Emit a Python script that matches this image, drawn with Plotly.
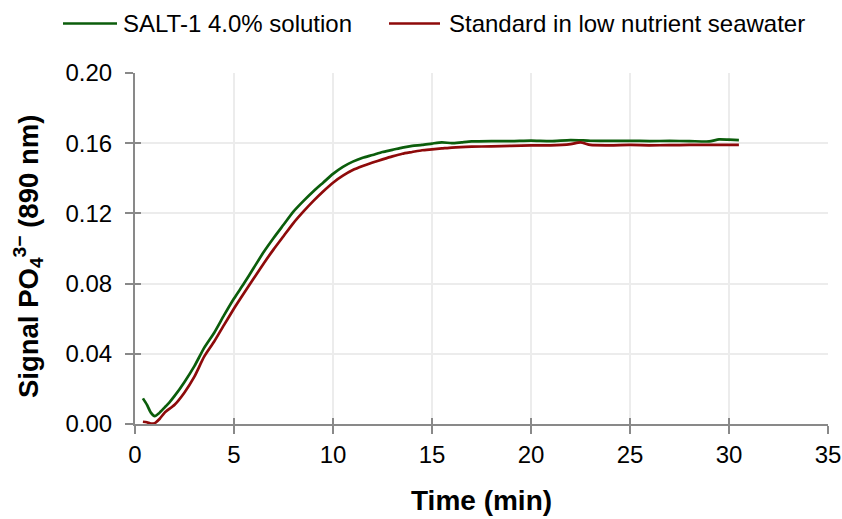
import plotly.graph_objects as go

time_green = [0.4, 0.6, 0.8, 1.0, 1.2, 1.5, 1.75, 2.0, 2.5, 3.0, 3.5, 4.0, 4.5, 5.0, 5.5, 6.0, 6.5, 7.0,
              7.5, 8.0, 8.5, 9.0, 9.5, 10.0, 10.5, 11.0, 11.5, 12.0, 12.5, 13.0, 13.5, 14.0, 14.5, 15.0,
              15.5, 16.0, 16.5, 17.0, 18.0, 19.0, 20.0, 21.0, 22.0, 23.0, 24.0, 25.0, 26.0, 27.0, 28.0,
              29.0, 29.5, 30.0, 30.5]
salt1 = [0.0146, 0.0110, 0.0065, 0.0045, 0.0060, 0.0095, 0.0125, 0.0160, 0.0240, 0.0330, 0.0435, 0.0520,
         0.0620, 0.0715, 0.0800, 0.0890, 0.0980, 0.1060, 0.1135, 0.1210, 0.1270, 0.1325, 0.1375, 0.1425,
         0.1465, 0.1495, 0.1517, 0.1533, 0.1550, 0.1562, 0.1575, 0.1585, 0.1590, 0.1598, 0.1605, 0.1600,
         0.1605, 0.1610, 0.1612, 0.1612, 0.1615, 0.1612, 0.1618, 0.1614, 0.1613, 0.1614, 0.1612, 0.1613,
         0.1612, 0.1610, 0.1622, 0.1620, 0.1618]

time_red = [0.4, 0.6, 0.8, 1.0, 1.25, 1.5, 2.0, 2.5, 3.0, 3.5, 4.0, 4.5, 5.0, 5.5, 6.0, 6.5, 7.0, 7.5,
            8.0, 8.5, 9.0, 9.5, 10.0, 10.5, 11.0, 11.5, 12.0, 12.5, 13.0, 13.5, 14.0, 14.5, 15.0, 15.5,
            16.0, 17.0, 18.0, 19.0, 20.0, 21.0, 22.0, 22.5, 23.0, 24.0, 25.0, 26.0, 27.0, 28.0, 29.0,
            30.0, 30.5]
standard = [0.0013, 0.0010, 0.0002, 0.0005, 0.0030, 0.0065, 0.0110, 0.0180, 0.0270, 0.0385, 0.0470,
            0.0565, 0.0658, 0.0745, 0.0830, 0.0915, 0.0995, 0.1070, 0.1145, 0.1210, 0.1270, 0.1325,
            0.1375, 0.1415, 0.1447, 0.1470, 0.1490, 0.1508, 0.1525, 0.1540, 0.1550, 0.1560, 0.1565,
            0.1570, 0.1575, 0.1580, 0.1582, 0.1585, 0.1588, 0.1588, 0.1595, 0.1605, 0.1590, 0.1588,
            0.1590, 0.1588, 0.1589, 0.1590, 0.1591, 0.1590, 0.1590]

series_names = ["SALT-1 4.0% solution", "Standard in low nutrient seawater"]
series_colors = ["#0b5d0b", "#8e0a0a"]

x_ticks = [0, 5, 10, 15, 20, 25, 30, 35]
y_ticks = [0.00, 0.04, 0.08, 0.12, 0.16, 0.20]

x_title = "<b>Time (min)</b>"
y_title = "<b>Signal PO<sub>4</sub><sup>3−</sup> (890 nm)</b>"

FONT = "Liberation Sans, Arial, sans-serif"
TICK_SIZE = 24

# figure geometry (page body margin removed below, so figure px == page px)
W, H = 842, 519
ML, MR, MT, MB = 135, 14, 73, 95
PW, PH = W - ML - MR, H - MT - MB


def px_x(x):
    return (x - ML) / PW


def px_y(y):
    return (H - MB - y) / PH


fig = go.Figure()
fig.add_trace(go.Scatter(x=time_green, y=salt1, mode="lines", name=series_names[0], showlegend=False,
                         line=dict(color=series_colors[0], width=2.7, shape="spline", smoothing=0.6)))
fig.add_trace(go.Scatter(x=time_red, y=standard, mode="lines", name=series_names[1], showlegend=False,
                         line=dict(color=series_colors[1], width=2.7, shape="spline", smoothing=0.6)))
# helper trace for overlay axes that carry the inner half of the crossing tick marks
fig.add_trace(go.Scatter(x=[None], y=[None], xaxis="x2", yaxis="y2", showlegend=False, hoverinfo="skip"))

axis_common = dict(showline=True, linecolor="#898989", linewidth=2, ticks="outside", ticklen=8,
                   tickcolor="#898989", tickwidth=2, showgrid=True, gridcolor="#ececec", gridwidth=1.5,
                   zeroline=False, automargin=False,
                   tickfont=dict(family=FONT, size=TICK_SIZE, color="#000"))
inner_common = dict(showline=False, ticks="inside", ticklen=6, tickcolor="#898989", tickwidth=2,
                    showgrid=False, zeroline=False, showticklabels=False, automargin=False)

fig.update_layout(
    width=W, height=H,
    paper_bgcolor="white", plot_bgcolor="white",
    margin=dict(l=ML, r=MR, t=MT, b=MB),
    font=dict(family=FONT, color="#000"),
    xaxis=dict(range=[0, 35], tickvals=x_ticks, ticktext=[str(v) for v in x_ticks], ticklabelstandoff=0,
               **axis_common),
    yaxis=dict(range=[0, 0.20], tickvals=y_ticks, ticktext=[f"{v:.2f}" for v in y_ticks],
               ticklabelstandoff=8, **axis_common),
    xaxis2=dict(range=[0, 35], tickvals=x_ticks, overlaying="x", side="bottom", **inner_common),
    yaxis2=dict(range=[0, 0.20], tickvals=y_ticks, overlaying="y", side="left", **inner_common),
    showlegend=False,
)

# axis titles
fig.add_annotation(xref="paper", yref="paper", x=px_x(481), y=px_y(500), xanchor="center",
                   yanchor="middle", text=x_title, showarrow=False,
                   font=dict(family=FONT, size=28, color="#000"))
fig.add_annotation(xref="paper", yref="paper", x=px_x(28), y=px_y(257), xanchor="center",
                   yanchor="middle", text=y_title, showarrow=False, textangle=-90,
                   font=dict(family=FONT, size=27.5, color="#000"))

# legend drawn as line samples + real text
legend_items = [(63, 117, 121), (389, 440, 447)]
LEG_Y = 23.5
for (x0, x1, xt), name, color in zip(legend_items, series_names, series_colors):
    fig.add_shape(type="line", xref="paper", yref="paper", x0=px_x(x0), x1=px_x(x1),
                  y0=px_y(LEG_Y), y1=px_y(LEG_Y), line=dict(color=color, width=2.7))
    fig.add_annotation(xref="paper", yref="paper", x=px_x(xt), y=px_y(LEG_Y), xanchor="left",
                       yanchor="middle", text=name, showarrow=False,
                       font=dict(family=FONT, size=TICK_SIZE, color="#000"))

fig.write_html("out.html", config={"displayModeBar": False},
               post_script="document.body.style.margin='0';document.body.style.overflow='hidden';")
